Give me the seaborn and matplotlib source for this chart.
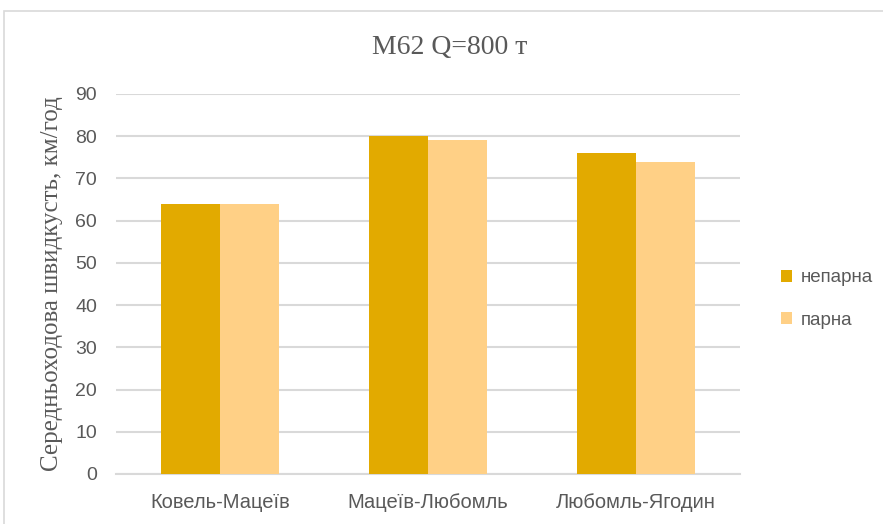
import matplotlib
matplotlib.use("Agg")
import matplotlib.pyplot as plt
from matplotlib.patches import Rectangle, Patch
import seaborn as sns
import pandas as pd

# Average running speed per section for the M62 locomotive, Q = 800 t
sections = ["Ковель-Мацеїв", "Мацеїв-Любомль", "Любомль-Ягодин"]
odd_direction = [64, 80, 76]    # непарна
even_direction = [64, 79, 74]   # парна
series_names = ["непарна", "парна"]
y_ticks = [0, 10, 20, 30, 40, 50, 60, 70, 80, 90]

colors = ["#E2AA00", "#FFD086"]
grey_text = "#595959"
grid_color = "#D9D9D9"

df = pd.DataFrame({
    "section": sections * 2,
    "speed": odd_direction + even_direction,
    "direction": [series_names[0]] * len(sections) + [series_names[1]] * len(sections),
})

sns.set_theme(style="white")
plt.rcParams["font.family"] = ["Liberation Sans", "DejaVu Sans"]

W, H = 883, 524
fig = plt.figure(figsize=(W / 100, H / 100), dpi=100)
ax = fig.add_axes([116 / W, 1 - 474 / H, (740 - 116) / W, (474 - 94) / H])

sns.barplot(data=df, x="section", y="speed", hue="direction",
            palette=colors, width=0.57, gap=0, saturation=1,
            edgecolor="none", linewidth=0, legend=False, ax=ax, zorder=3)

ax.set_ylim(0, 90)
ax.set_xlim(-0.5, 2.5)
ax.set_yticks(y_ticks)
ax.yaxis.grid(True, color=grid_color, linewidth=1.5, zorder=0)
ax.set_axisbelow(True)
for side in ["top", "right", "left"]:
    ax.spines[side].set_visible(False)
ax.spines["bottom"].set_color(grid_color)
ax.spines["bottom"].set_linewidth(1.5)
ax.tick_params(axis="y", length=0, labelsize=14, colors=grey_text, pad=13.5)
ax.tick_params(axis="x", length=0, labelsize=14.5, colors=grey_text, pad=14)
ax.set_xlabel("")
ax.set_ylabel("Середньоходова швидкусть, км/год", family="Liberation Serif",
              fontsize=18, color=grey_text, labelpad=9)

fig.text(450 / W, 1 - 47 / H, "M62 Q=800 т", family="Liberation Serif",
         fontsize=20, color=grey_text, ha="center", va="center")

handles = [Patch(facecolor=c, edgecolor="none") for c in colors]
fig.legend(handles, series_names, loc="center left",
           bbox_to_anchor=(773 / W, 1 - 299 / H), frameon=False,
           fontsize=13.5, labelcolor=grey_text, handlelength=0.6,
           handleheight=0.6, handletextpad=0.5, labelspacing=1.35,
           borderaxespad=0)

# light frame around the chart area
fig.patches.append(Rectangle((4 / W, -0.1), 1.2, 1 - 11 / H + 0.1,
                             transform=fig.transFigure, fill=False,
                             edgecolor=grid_color, linewidth=1.2))

fig.savefig("out.png", dpi=100, facecolor="white")
